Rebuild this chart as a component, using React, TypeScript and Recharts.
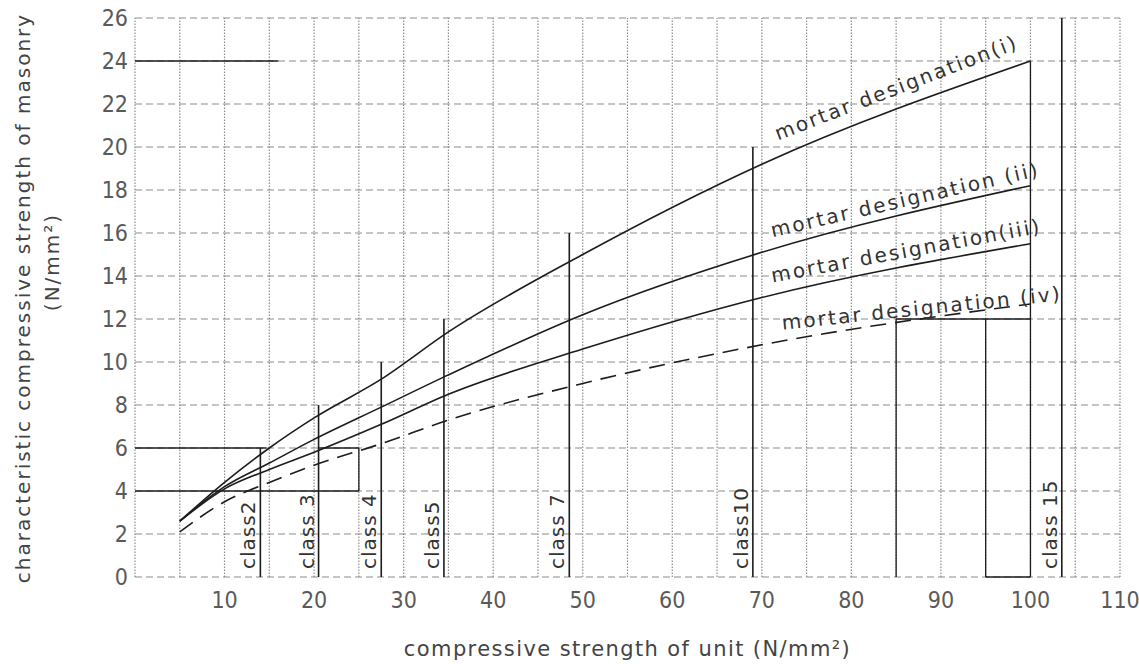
import React from 'react'
import { LineChart, Line, XAxis, YAxis, ReferenceLine, ReferenceDot, Label } from 'recharts'

// unit strength (N/mm2) where the curves were read
const unitStrength = [5, 10, 15, 20, 27.5, 35, 50, 70, 100]
const mortarI = [2.6, 4.4, 6.0, 7.4, 9.2, 11.4, 15.0, 19.2, 24.0]
const mortarII = [2.6, 4.2, 5.3, 6.4, 7.9, 9.4, 12.2, 15.1, 18.2]
const mortarIII = [2.6, 4.1, 5.0, 5.8, 7.1, 8.5, 10.6, 13.0, 15.5]
const mortarIV = [2.1, 3.5, 4.4, 5.2, 6.2, 7.3, 9.0, 10.8, 12.7]

const xTicks = [10, 20, 30, 40, 50, 60, 70, 80, 90, 100, 110]
const yTicks = [0, 2, 4, 6, 8, 10, 12, 14, 16, 18, 20, 22, 24, 26]
const gridX = [0, 5, 10, 15, 20, 25, 30, 35, 40, 45, 50, 55, 60, 65, 70, 75, 80, 85, 90, 95, 100, 105, 110]

// brick classes: strength and height of their marker line
const classNames = ['class2', 'class 3', 'class 4', 'class5', 'class 7', 'class10', 'class 15']
const classX = [14, 20.5, 27.5, 34.5, 48.5, 69, 103.5]
const classTop = [6, 8, 10, 12, 16, 20, 26]

// heavier construction lines on the original sheet [x1, y1, x2, y2]
const guideLines = [
  [0, 4, 25, 4],
  [0, 6, 14.7, 6],
  [20.5, 6, 25, 6],
  [25, 4, 25, 6],
  [0, 24, 16, 24],
  [100, 0, 100, 24],
  [95, 0, 95, 12],
  [85, 0, 85, 12],
  [85, 12, 100, 12],
  [95, 0, 100, 0],
]

const curveNames = ['mortar designation(i)', 'mortar designation (ii)', 'mortar designation(iii)', 'mortar designation (iv)']
const curveLabelX = [71.8, 71.2, 71.2, 72.3]
const curveLabelY = [20.3, 15.8, 13.7, 11.5]
const curveLabelAngle = [-21, -13, -10.5, -6]

const INK = '#1c1c1c'
const FONT = '"DejaVu Sans", sans-serif'
const NARROW = '"DejaVu Sans Condensed", "DejaVu Sans", sans-serif'

export default function App() {
  const data = unitStrength.map((x, i) => ({
    x,
    i: mortarI[i],
    ii: mortarII[i],
    iii: mortarIII[i],
    iv: mortarIV[i],
  }))

  return (
    <div style={{ position: 'absolute', left: 0, top: 0, width: 1139, height: 664, background: '#fff' }}>
      <LineChart width={1139} height={664} data={data} margin={{ top: 18, right: 19, left: 0, bottom: 0 }}>
        <XAxis
          type="number" dataKey="x" domain={[0, 110]} ticks={xTicks}
          height={87} tickLine={false} axisLine={false} tickSize={0} tickMargin={15}
          tick={{ fontSize: 23, fontFamily: NARROW, fill: '#5a5a5a' }}
        >
          <Label
            value="compressive strength of unit (N/mm²)" position="insideBottom" offset={8}
            style={{ fontSize: 21, fontFamily: FONT, fill: '#444', letterSpacing: 1.4 }}
          />
        </XAxis>
        <YAxis
          type="number" domain={[0, 26]} ticks={yTicks} width={135}
          tickLine={false} axisLine={false} tickSize={0} tickMargin={7}
          tick={{ fontSize: 23, fontFamily: NARROW, fill: '#5a5a5a' }}
        >
          <Label
            content={() => (
              <g style={{ fontFamily: FONT, fill: '#444', fontSize: 20, letterSpacing: 2 }}>
                <text x={23} y={298} textAnchor="middle" dominantBaseline="central" transform="rotate(-90 23 298)">
                  characteristic compressive strength of masonry
                </text>
                <text x={52} y={262} textAnchor="middle" dominantBaseline="central" transform="rotate(-90 52 262)">
                  (N/mm²)
                </text>
              </g>
            )}
          />
        </YAxis>

        {gridX.map(v => (
          <ReferenceLine key={'gx' + v} x={v} stroke="#8c8c8c" strokeDasharray="1.5 1.5" strokeWidth={1.2} />
        ))}
        {yTicks.map(v => (
          <ReferenceLine key={'gy' + v} y={v} stroke="#8c8c8c" strokeDasharray="7 4" strokeWidth={1.1} />
        ))}

        {guideLines.map((g, k) => (
          <ReferenceLine key={'g' + k} segment={[{ x: g[0], y: g[1] }, { x: g[2], y: g[3] }]} stroke={INK} strokeWidth={1.3} />
        ))}

        {classX.map((x, k) => (
          <ReferenceLine key={'c' + k} segment={[{ x, y: 0 }, { x, y: classTop[k] }]} stroke={INK} strokeWidth={1.6} />
        ))}
        {classX.map((x, k) => (
          <ReferenceDot
            key={'cl' + k} x={x} y={0} r={0}
            shape={(p: any) => (
              <text
                x={p.cx - 5} y={p.cy - 8}
                transform={`rotate(-90 ${p.cx - 5} ${p.cy - 8})`}
                style={{ fontSize: 20, fontFamily: FONT, fill: '#333', letterSpacing: 1 }}
              >
                {classNames[k]}
              </text>
            )}
          />
        ))}

        <Line type="monotone" dataKey="i" stroke={INK} strokeWidth={1.6} dot={false} isAnimationActive={false} />
        <Line type="monotone" dataKey="ii" stroke={INK} strokeWidth={1.6} dot={false} isAnimationActive={false} />
        <Line type="monotone" dataKey="iii" stroke={INK} strokeWidth={1.6} dot={false} isAnimationActive={false} />
        <Line type="monotone" dataKey="iv" stroke={INK} strokeWidth={1.6} strokeDasharray="16 9" dot={false} isAnimationActive={false} />

        {curveNames.map((name, k) => (
          <ReferenceDot
            key={'ml' + k} x={curveLabelX[k]} y={curveLabelY[k]} r={0}
            shape={(p: any) => (
              <text
                x={p.cx} y={p.cy}
                transform={`rotate(${curveLabelAngle[k]} ${p.cx} ${p.cy})`}
                style={{ fontSize: 20, fontFamily: FONT, fill: '#333', letterSpacing: 2.2 }}
              >
                {name}
              </text>
            )}
          />
        ))}
      </LineChart>
    </div>
  )
}
